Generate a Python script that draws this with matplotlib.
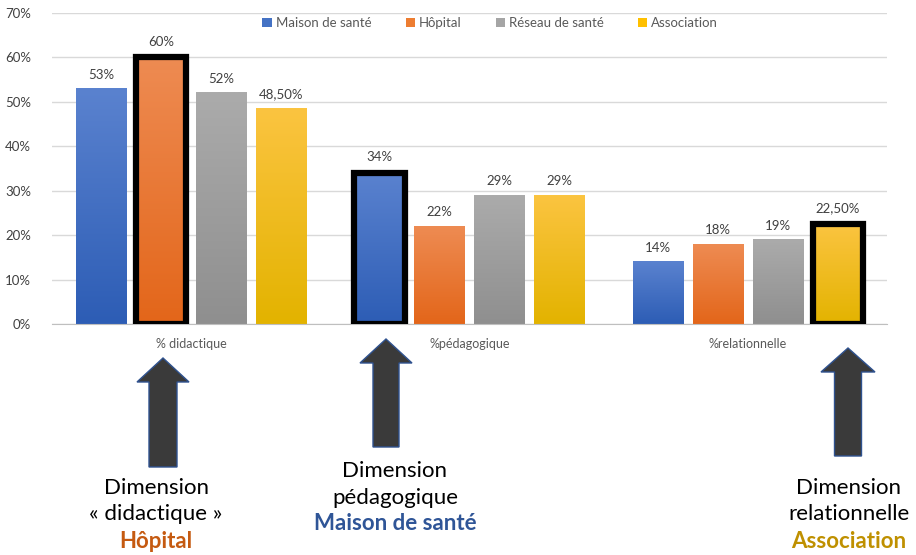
import numpy as np
import matplotlib.pyplot as plt
from matplotlib.patches import Polygon, Rectangle
from matplotlib.colors import LinearSegmentedColormap

# data
categories = ["% didactique", "%pédagogique", "%relationnelle"]
series = ["Maison de santé", "Hôpital", "Réseau de santé", "Association"]
maison = [0.53, 0.34, 0.14]
hopital = [0.60, 0.22, 0.18]
reseau = [0.52, 0.29, 0.19]
association = [0.485, 0.29, 0.225]
value_labels = [["53%", "34%", "14%"], ["60%", "22%", "18%"],
                ["52%", "29%", "19%"], ["48,50%", "29%", "22,50%"]]
# (series index, category index) of the highlighted bars
highlighted = [(1, 0), (0, 1), (3, 2)]
yticks = [0, 0.1, 0.2, 0.3, 0.4, 0.5, 0.6, 0.7]
ytick_labels = ["0%", "10%", "20%", "30%", "40%", "50%", "60%", "70%"]

# gradient colours (top, bottom) and legend colour per series
grad_top = ["#5A82CF", "#EE8B52", "#ABABAB", "#FBC440"]
grad_bottom = ["#2D5DB5", "#E3661A", "#8F8F8F", "#E3B300"]
legend_col = ["#4472C4", "#ED7D31", "#A5A5A5", "#FFC000"]

FONT = "Lato"

fig = plt.figure(figsize=(9.16, 5.55), dpi=100)
ax = fig.add_axes([52 / 916, 1 - 324 / 555, 835 / 916, 311 / 555])

values = [maison, hopital, reseau, association]
x = np.arange(len(categories))
stride = 0.2155
width = 0.18

for i, vals in enumerate(values):
    cmap = LinearSegmentedColormap.from_list("g%d" % i, [grad_bottom[i], grad_top[i]])
    grad = np.linspace(0, 1, 100).reshape(-1, 1)
    for j, v in enumerate(vals):
        xc = x[j] + (i - 1.5) * stride
        ax.imshow(grad, cmap=cmap, origin="lower", aspect="auto",
                  extent=(xc - width / 2, xc + width / 2, 0, v), zorder=2)
        if (i, j) in highlighted:
            ax.add_patch(Rectangle((xc - width / 2, 0), width, v, fill=False,
                                   edgecolor="black", linewidth=4.5, zorder=3))
            ytxt = v + 0.022
        else:
            ytxt = v + 0.018
        ax.text(xc, ytxt, value_labels[i][j], ha="center", va="bottom",
                fontsize=9.5, color="#404040", family=FONT)
    ax.bar(0, 0, color=legend_col[i], label=series[i])

ax.set_xlim(-0.5, 2.5)
ax.set_ylim(0, 0.7)
ax.set_yticks(yticks)
ax.set_yticklabels(ytick_labels, fontsize=9.5, color="#404040", family=FONT)
ax.set_xticks(x)
ax.set_xticklabels(categories, fontsize=9, color="#595959", family=FONT)
ax.tick_params(axis="y", length=0, pad=15)
ax.tick_params(axis="x", length=0, pad=10)
ax.grid(axis="y", color="#D9D9D9", linewidth=1, zorder=0)
ax.set_axisbelow(True)
for s in ["top", "right", "left"]:
    ax.spines[s].set_visible(False)
ax.spines["bottom"].set_color("#BFBFBF")

leg = ax.legend(loc="upper center", bbox_to_anchor=(0.525, 1.025), ncol=4, frameon=False,
                handlelength=0.7, handleheight=0.7, handletextpad=0.3, columnspacing=2.6,
                prop={"family": FONT, "size": 9.5})
for t in leg.get_texts():
    t.set_color("#595959")


def up_arrow(cx, tip, base, bottom, head_w, shaft_w):
    # coordinates in pixels from top-left, converted to figure fraction
    pts = [(cx, tip), (cx + head_w / 2, base), (cx + shaft_w / 2, base),
           (cx + shaft_w / 2, bottom), (cx - shaft_w / 2, bottom),
           (cx - shaft_w / 2, base), (cx - head_w / 2, base)]
    pts = [(px / 916, 1 - py / 555) for px, py in pts]
    fig.add_artist(Polygon(pts, closed=True, facecolor="#3A3A3A", edgecolor="#2F528F",
                           linewidth=1, transform=fig.transFigure))


up_arrow(163, 358, 382, 467, 52, 28)
up_arrow(386, 339, 363, 447, 52, 26)
up_arrow(848, 348, 372, 456, 54, 27)

notes = [
    (156, 488, ["Dimension", "« didactique »"], "Hôpital", "#C55A11"),
    (395, 471, ["Dimension", "pédagogique"], "Maison de santé", "#2F5597"),
    (849, 488, ["Dimension", "relationnelle"], "Association", "#BF9000"),
]
for cx, y0, lines, name, col in notes:
    for k, line in enumerate(lines):
        fig.text(cx / 916, 1 - (y0 + 26.5 * k) / 555, line, ha="center", va="center",
                 fontsize=16, color="black", family=FONT)
    fig.text(cx / 916, 1 - (y0 + 53) / 555, name, ha="center", va="center",
             fontsize=16, color=col, weight="bold", family=FONT)

fig.savefig("out.png", dpi=100)
